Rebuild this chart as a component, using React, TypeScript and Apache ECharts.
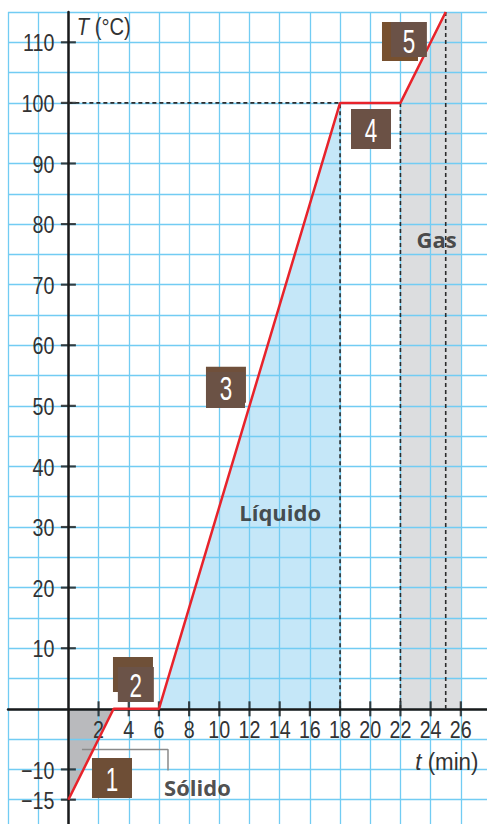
import React, { useEffect, useRef } from 'react';
import * as echarts from 'echarts';

// ---- data ----
const heatingCurve: number[][] = [[0, -15], [3, 0], [6, 0], [18, 100], [22, 100], [25, 115]];
const solidArea: number[][] = [[0, -15], [0, 0], [3, 0]];
const liquidArea: number[][] = [[6, 0], [18, 100], [18, 0]];
const gasArea: number[][] = [[22, 0], [22, 100], [25, 115], [26, 115], [26, 0]];
const dashedBoiling: number[][] = [[0, 100], [18, 100], [18, 0]];
const dashedGasStart: number[][] = [[22, 100], [22, 0]];
const dashedEnd: number[][] = [[25, 115], [25, 0]];
const solidBracket: number[][] = [[0.9, -6.7], [6.6, -6.7], [6.6, -10.2]];
const xTickLabels: number[] = [2, 4, 6, 8, 10, 12, 14, 16, 18, 20, 22, 24, 26];
const yTickLabels: number[] = [-15, -10, 10, 20, 30, 40, 50, 60, 70, 80, 90, 100, 110];
// stage number boxes (back layers first), positions in data units
const boxRects = [
  { value: [2.89, -11.42], w: 40, h: 40, color: '#6e4e36' },
  { value: [4.28, 5.66], w: 40, h: 35, color: '#6f5038' },
  { value: [4.47, 4.01], w: 36, h: 35, color: '#6b5348' },
  { value: [10.44, 53.5], w: 40, h: 36, color: '#70503b' },
  { value: [10.41, 52.6], w: 39, h: 36, color: '#6b5245' },
  { value: [20.05, 95.7], w: 40, h: 40, color: '#6b5145' },
  { value: [21.97, 110.15], w: 36, h: 39, color: '#77502f' },
  { value: [22.56, 110.48], w: 36, h: 35, color: '#6b5247' },
];
const stageNumbers = [
  { name: '1', value: [2.89, -11.42] },
  { name: '2', value: [4.47, 4.1] },
  { name: '3', value: [10.44, 53.0] },
  { name: '4', value: [20.05, 95.7] },
  { name: '5', value: [22.56, 110.4] },
];
const phaseLabels = [
  { name: 'Sólido', value: [8.55, -12.9] },
  { name: 'Líquido', value: [14.03, 32.5] },
  { name: 'Gas', value: [24.4, 77.5] },
];
const axisNames = [
  { sym: 'T', unit: ' (°C)', value: [0.56, 112.6], sx: 0.84 },
  { sym: 't', unit: ' (min)', value: [22.98, -8.8], sx: 0.93 },
];

const FONT = "'Liberation Sans', Arial, sans-serif";
const BOLD = "'Open Sans', 'Liberation Sans', sans-serif";
const TEXT = '#333333';
const GRID_BLUE = '#72ccf3';

function polygonSeries(pts: number[][], color: string) {
  return {
    type: 'custom',
    z: 0,
    silent: true,
    data: pts,
    renderItem: (params: any, api: any) => {
      if (params.dataIndex !== 0) return { type: 'group', children: [] };
      return {
        type: 'polygon',
        shape: { points: pts.map((p) => api.coord(p)) },
        style: { fill: color },
      };
    },
  };
}

function dashedSeries(pts: number[][]) {
  return {
    type: 'line',
    z: 4,
    silent: true,
    symbol: 'none',
    data: pts,
    lineStyle: { color: '#2b2b2b', width: 1.6, type: [4, 3] },
  };
}

export default function App() {
  const ref = useRef<HTMLDivElement>(null);
  useEffect(() => {
    document.body.style.margin = '0';
    document.body.style.overflow = 'hidden';
    document.documentElement.style.overflow = 'hidden';
    const chart = echarts.init(ref.current!, null, { renderer: 'svg' });
    const axisCommon = {
      type: 'value',
      z: 1,
      axisLine: { onZero: true, lineStyle: { color: '#1a1a1a', width: 2.5 } },
      axisTick: { show: false },
      axisLabel: { show: false },
      splitLine: { show: true, lineStyle: { color: GRID_BLUE, width: 1.3 } },
    };
    chart.setOption({
      animation: false,
      backgroundColor: '#ffffff',
      grid: { left: 8, top: 12, right: 0, bottom: 0, containLabel: false, outerBoundsMode: 'none' },
      xAxis: { ...axisCommon, min: -4, max: 28, interval: 2 },
      yAxis: { ...axisCommon, min: -20, max: 115, interval: 5 },
      series: [
        polygonSeries(solidArea, '#b9babd'),
        polygonSeries(liquidArea, '#c5e7f8'),
        polygonSeries(gasArea, '#dcdddf'),
        dashedSeries(dashedBoiling),
        dashedSeries(dashedGasStart),
        dashedSeries(dashedEnd),
        {
          type: 'line',
          z: 4,
          silent: true,
          symbol: 'none',
          data: solidBracket,
          lineStyle: { color: '#8a8a8a', width: 1.5 },
        },
        {
          type: 'scatter',
          z: 3,
          silent: true,
          symbol: 'rect',
          symbolSize: [15, 2.2],
          itemStyle: { color: '#1a1a1a' },
          data: yTickLabels.map((v) => [0, v]),
        },
        {
          type: 'scatter',
          z: 3,
          silent: true,
          symbol: 'rect',
          symbolSize: [2.2, 15],
          itemStyle: { color: '#1a1a1a' },
          data: xTickLabels.map((v) => [v, 0]),
        },
        // y tick labels
        {
          type: 'custom',
          z: 3,
          silent: true,
          data: yTickLabels.map((v) => [0, v]),
          renderItem: (params: any, api: any) => {
            const p = api.coord([api.value(0), api.value(1)]);
            return {
              type: 'text',
              x: p[0] - 14,
              y: p[1] + 1,
              scaleX: 0.82,
              style: {
                text: String(api.value(1)).replace('-', '\u2212'),
                fontSize: 24,
                fontFamily: FONT,
                fill: TEXT,
                align: 'right',
                verticalAlign: 'middle',
              },
            };
          },
        },
        // x tick labels
        {
          type: 'custom',
          z: 3,
          silent: true,
          data: xTickLabels.map((v) => [v, 0]),
          renderItem: (params: any, api: any) => {
            const p = api.coord([api.value(0), api.value(1)]);
            return {
              type: 'text',
              x: p[0],
              y: p[1] + 21,
              scaleX: 0.82,
              style: {
                text: String(api.value(0)),
                fontSize: 24,
                fontFamily: FONT,
                fill: TEXT,
                align: 'center',
                verticalAlign: 'middle',
              },
            };
          },
        },
        {
          type: 'line',
          z: 5,
          silent: true,
          symbol: 'none',
          data: heatingCurve,
          lineStyle: { color: '#e8232b', width: 2.5 },
        },
        // stage boxes
        {
          type: 'custom',
          z: 6,
          silent: true,
          data: boxRects.map((b) => b.value),
          renderItem: (params: any, api: any) => {
            const b = boxRects[params.dataIndex];
            const p = api.coord([api.value(0), api.value(1)]);
            return {
              type: 'rect',
              shape: { x: p[0] - b.w / 2, y: p[1] - b.h / 2, width: b.w, height: b.h },
              style: { fill: b.color },
            };
          },
        },
        {
          type: 'custom',
          z: 7,
          silent: true,
          data: stageNumbers.map((b) => b.value),
          renderItem: (params: any, api: any) => {
            const p = api.coord([api.value(0), api.value(1)]);
            return {
              type: 'text',
              x: p[0],
              y: p[1] + 1,
              scaleX: 0.66,
              style: {
                text: stageNumbers[params.dataIndex].name,
                fontSize: 34,
                fontFamily: FONT,
                fill: '#ffffff',
                align: 'center',
                verticalAlign: 'middle',
              },
            };
          },
        },
        // phase labels
        {
          type: 'scatter',
          z: 6,
          silent: true,
          symbolSize: 0,
          data: phaseLabels,
          label: {
            show: true,
            position: 'inside',
            formatter: '{b}',
            color: '#222222',
            fontSize: 22,
            fontWeight: 'bold',
            fontFamily: BOLD,
          },
        },
        // axis names
        {
          type: 'custom',
          z: 6,
          silent: true,
          data: axisNames.map((a) => a.value),
          renderItem: (params: any, api: any) => {
            const p = api.coord([api.value(0), api.value(1)]);
            const a = axisNames[params.dataIndex];
            return {
              type: 'text',
              x: p[0],
              y: p[1],
              scaleX: a.sx,
              style: {
                text: `{i|${a.sym}}{r|${a.unit}}`,
                rich: {
                  i: { fontStyle: 'italic', fontSize: 24, fontFamily: FONT, fill: TEXT },
                  r: { fontSize: 24, fontFamily: FONT, fill: TEXT },
                },
                fontSize: 24,
                fontFamily: FONT,
                fill: TEXT,
                align: 'left',
                verticalAlign: 'middle',
              },
            };
          },
        },
      ],
    });
    return () => chart.dispose();
  }, []);
  return <div ref={ref} style={{ width: 491, height: 830 }} />;
}
